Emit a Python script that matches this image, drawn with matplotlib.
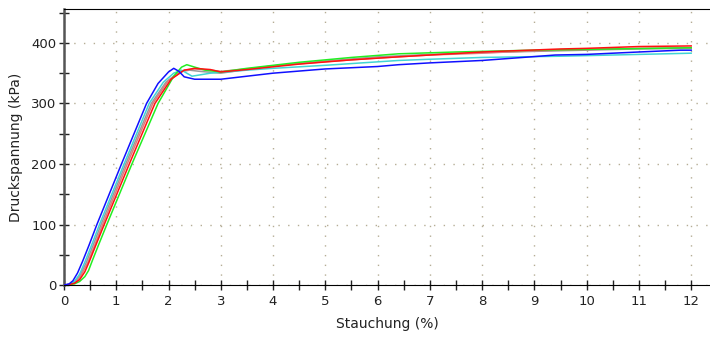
import matplotlib
matplotlib.use('Agg')
import matplotlib.pyplot as plt
from matplotlib.ticker import MultipleLocator

# Stauchung (%) / Druckspannung (kPa), one pair of lists per specimen
blue_x = [0, 0.1, 0.17, 0.26, 0.36, 0.48, 0.63, 1.1, 1.58, 1.8, 2.0, 2.1, 2.2, 2.3, 2.5, 3.0, 3.5, 4.0, 5.0, 6.0, 6.4, 7.0, 8.0, 9.4, 10.0, 11.0, 11.8, 12.0]
blue_y = [0, 2, 7, 20, 40, 66, 100, 200, 300, 333, 352, 358, 353, 344, 340, 340, 345, 350, 357, 361, 364, 367, 371, 380, 381, 385, 388, 388]

cyan_x = [0, 0.1, 0.2, 0.3, 0.4, 0.52, 0.68, 1.15, 1.63, 1.9, 2.1, 2.25, 2.35, 2.45, 2.8, 3.5, 4.0, 5.0, 6.4, 7.0, 8.0, 9.5, 10.0, 11.0, 12.0]
cyan_y = [0, 1, 6, 18, 38, 64, 100, 200, 300, 335, 350, 355, 350, 345, 350, 355, 358, 363, 371, 373, 376, 378, 379, 381, 383]

gray_x = [0, 0.1, 0.2, 0.3, 0.42, 0.55, 0.71, 1.18, 1.67, 1.95, 2.2, 2.4, 2.6, 3.0, 3.5, 4.0, 5.0, 6.0, 7.0, 8.0, 9.0, 10.0, 11.0, 12.0]
gray_y = [0, 1, 5, 15, 36, 64, 100, 200, 300, 335, 352, 355, 353, 350, 356, 362, 370, 377, 381, 384, 386, 388, 390, 391]

pink_x = [0, 0.1, 0.2, 0.3, 0.45, 0.58, 0.74, 1.21, 1.7, 2.0, 2.3, 2.5, 2.8, 3.0, 3.5, 4.0, 5.0, 6.0, 7.0, 8.0, 9.0, 10.0, 11.0, 12.0]
pink_y = [0, 1, 4, 12, 36, 64, 100, 200, 300, 338, 355, 357, 355, 353, 357, 362, 369, 375, 380, 383, 387, 389, 391, 392]

red_x = [0, 0.1, 0.2, 0.3, 0.4, 0.48, 0.61, 0.77, 1.25, 1.74, 2.05, 2.3, 2.5, 2.8, 3.0, 3.5, 4.5, 5.5, 6.4, 7.0, 8.0, 9.5, 10.0, 11.0, 12.0]
red_y = [0, 1, 3, 9, 22, 38, 66, 100, 200, 300, 340, 355, 358, 356, 352, 356, 365, 372, 377, 380, 385, 390, 391, 394, 395]

green_x = [0, 0.1, 0.2, 0.3, 0.4, 0.47, 0.55, 0.66, 0.82, 1.3, 1.8, 2.1, 2.25, 2.35, 2.5, 2.7, 3.0, 3.5, 4.5, 5.5, 6.4, 7.5, 9.0, 10.5, 12.0]
green_y = [0, 0.5, 2, 6, 14, 24, 42, 66, 100, 200, 300, 345, 360, 364, 360, 355, 352, 358, 368, 376, 382, 385, 388, 390, 392]

curves = [
    (gray_x, gray_y, '#9a9a9a'),
    (pink_x, pink_y, '#e07a7a'),
    (cyan_x, cyan_y, '#40d4d4'),
    (green_x, green_y, '#22ee22'),
    (red_x, red_y, '#ff1010'),
    (blue_x, blue_y, '#1010ff'),
]

plt.rcParams['font.family'] = 'DejaVu Sans'
fig = plt.figure(figsize=(7.1, 3.41), dpi=100)
ax = fig.add_axes([0.0901, 0.164, 0.9099, 0.8096])

for x, y, c in curves:
    ax.plot(x, y, color=c, linewidth=1.1, zorder=3)

ax.set_xlim(0, 12.36)
ax.set_ylim(0, 456)
ax.xaxis.set_major_locator(MultipleLocator(1))
ax.xaxis.set_minor_locator(MultipleLocator(0.5))
ax.yaxis.set_major_locator(MultipleLocator(100))
ax.yaxis.set_minor_locator(MultipleLocator(50))
ax.tick_params(which='both', direction='inout', length=7, width=1, labelsize=9.5, colors='#222222')
ax.tick_params(axis='x', pad=4)
ax.tick_params(axis='y', pad=2)

ax.grid(True, which='major', color='#b5ad95', linestyle=(0, (1, 6)), linewidth=1)

ax.spines['right'].set_visible(False)
ax.spines['top'].set_color('black')
ax.spines['left'].set_color('#555555')
ax.spines['left'].set_linewidth(1.8)
ax.spines['bottom'].set_color('black')

ax.set_xlabel('Stauchung (%)', fontsize=10, color='#222222', labelpad=6)
ax.set_ylabel('Druckspannung (kPa)', fontsize=10, color='#222222', labelpad=6)

plt.savefig('out.png', dpi=100)
